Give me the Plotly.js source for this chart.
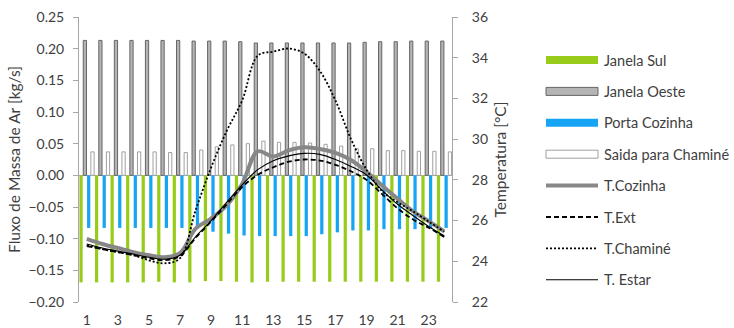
<!DOCTYPE html>
<html><head><meta charset="utf-8">
<script src="https://cdn.plot.ly/plotly-3.0.1.min.js"></script>
<style>html,body{margin:0;padding:0;background:#fff}#chart{width:734px;height:328px}</style>
</head><body><div id="chart"></div>
<script>
// ---- data ----
const hours = [1,2,3,4,5,6,7,8,9,10,11,12,13,14,15,16,17,18,19,20,21,22,23,24];
const tickHours = [1,3,5,7,9,11,13,15,17,19,21,23];
const tickLabels = ['1','3','5','7','9','11','13','15','17','19','21','23'];
const seriesNames = ['Janela Sul','Janela Oeste','Porta Cozinha','Saida para Chaminé','T.Cozinha','T.Ext','T.Chaminé','T. Estar'];

const janelaSul = [-0.169,-0.169,-0.169,-0.169,-0.169,-0.168,-0.169,-0.169,-0.167,-0.167,-0.168,-0.169,-0.168,-0.168,-0.168,-0.168,-0.168,-0.168,-0.168,-0.168,-0.168,-0.168,-0.168,-0.168];
const janelaOeste = [0.213,0.213,0.213,0.213,0.213,0.213,0.213,0.212,0.212,0.212,0.211,0.209,0.209,0.209,0.209,0.209,0.209,0.209,0.210,0.211,0.211,0.212,0.212,0.212];
const portaCozinha = [-0.083,-0.083,-0.083,-0.083,-0.083,-0.083,-0.083,-0.083,-0.089,-0.092,-0.095,-0.096,-0.096,-0.096,-0.096,-0.093,-0.090,-0.087,-0.087,-0.085,-0.085,-0.085,-0.084,-0.083];
const saidaChamine = [0.037,0.037,0.037,0.037,0.037,0.036,0.036,0.040,0.045,0.048,0.050,0.054,0.052,0.052,0.051,0.049,0.046,0.042,0.042,0.039,0.039,0.038,0.038,0.037];

const tCozinha = [25.1,24.85,24.65,24.45,24.3,24.2,24.4,25.6,26.1,26.75,27.8,29.4,29.15,29.45,29.6,29.52,29.33,28.98,28.4,27.72,27.07,26.45,25.97,25.47];
const tExt = [24.75,24.6,24.45,24.3,24.15,24.05,24.25,25.15,25.95,26.8,27.65,28.25,28.62,28.89,29.0,28.95,28.74,28.42,28.0,27.3,26.6,26.05,25.65,25.2];
const tChamine = [24.8,24.6,24.45,24.3,24.05,23.9,24.15,26.5,28.6,30.4,31.9,34.1,34.3,34.45,34.2,33.35,31.9,30.0,28.5,27.45,26.9,26.45,25.95,25.45];
const tEstar = [24.85,24.65,24.5,24.35,24.2,24.1,24.3,25.2,26.0,26.9,27.75,28.5,28.94,29.18,29.3,29.25,29.0,28.66,28.24,27.5,26.8,26.24,25.71,25.25];

// ---- styles ----
const FONT = 'Lato, "Open Sans", sans-serif';
const TXT = '#404040';
const AX = '#a6a6a6';
const barStyles = [
  {color:'#99cc1a', line:{width:0}},
  {color:'#b4b4b4', line:{color:'#666666', width:1}},
  {color:'#16a4f5', line:{width:0}},
  {color:'#ffffff', line:{color:'#a0a0a0', width:1}}
];
const lineStyles = [
  {color:'#878787', width:4, dash:'solid'},
  {color:'#000000', width:1.8, dash:'5px,3px'},
  {color:'#000000', width:1.8, dash:'2px,2px'},
  {color:'#000000', width:1.1, dash:'solid'}
];

const barData = [janelaSul, janelaOeste, portaCozinha, saidaChamine];
const lineData = [tCozinha, tExt, tChamine, tEstar];

const traces = [];
barData.forEach((vals, i) => {
  traces.push({type:'bar', x:hours, y:vals, name:seriesNames[i], marker:barStyles[i], showlegend:false, xaxis:'x', yaxis:'y'});
});
lineData.forEach((vals, i) => {
  traces.push({type:'scatter', mode:'lines', x:hours, y:vals, name:seriesNames[4+i],
    line:Object.assign({shape:'spline', smoothing:1}, lineStyles[i]), showlegend:false, xaxis:'x', yaxis:'y2'});
});

// ---- plot geometry (px) ----
const L = 79, R = 452, T = 17, B = 302;
const px = x => (x - L) / (R - L);
const py = y => (B - y) / (B - T);

// custom legend
const shapes = [];
const annotations = [];
const legX0 = 546, legX1 = 598, legTextX = 602, legY0 = 60, legStep = 31.4;
seriesNames.forEach((nm, i) => {
  const yc = legY0 + i * legStep;
  if (i < 4) {
    const st = barStyles[i];
    shapes.push({type:'rect', xref:'paper', yref:'paper', x0:px(legX0), x1:px(legX1), y0:py(yc+4), y1:py(yc-4),
      fillcolor:st.color, line:{color: st.line.width ? st.line.color : st.color, width: st.line.width ? 1 : 0}});
  } else {
    const st = lineStyles[i-4];
    shapes.push({type:'line', xref:'paper', yref:'paper', x0:px(legX0), x1:px(legX1), y0:py(yc), y1:py(yc),
      line:{color:st.color, width:st.width, dash:st.dash}});
  }
  annotations.push({xref:'paper', yref:'paper', x:px(legTextX), y:py(yc), text:nm, showarrow:false,
    xanchor:'left', yanchor:'middle', font:{family:FONT, size:14.5, color:TXT}});
});

const layout = {
  width:734, height:328,
  margin:{l:L, r:734-R, t:T, b:328-B, pad:0},
  paper_bgcolor:'#fff', plot_bgcolor:'#fff',
  font:{family:FONT, size:14, color:TXT},
  barmode:'group', bargap:0.02, bargroupgap:0.15,
  showlegend:false,
  xaxis:{range:[0.5,24.5], tickvals:tickHours, ticktext:tickLabels, showgrid:false, zeroline:false,
    showline:false, ticks:'', ticklabelstandoff:8, tickfont:{family:FONT, size:14, color:TXT}, fixedrange:true},
  yaxis:{range:[-0.2,0.25], dtick:0.05, tick0:0, tickformat:'.2f', showgrid:false,
    zeroline:true, zerolinecolor:AX, zerolinewidth:1.2,
    showline:true, linecolor:AX, linewidth:1, ticks:'outside', ticklen:5, tickcolor:AX,
    ticklabelstandoff:6, tickfont:{family:FONT, size:14, color:TXT},
    title:{text:'Fluxo de Massa de Ar [kg/s]', font:{family:FONT, size:15.5, color:TXT}, standoff:3}},
  yaxis2:{range:[22,36], dtick:2, overlaying:'y', side:'right', showgrid:false, zeroline:false,
    showline:true, linecolor:AX, linewidth:1, ticks:'outside', ticklen:5, tickcolor:AX,
    ticklabelstandoff:11, tickfont:{family:FONT, size:14, color:TXT},
    title:{text:'Temperatura [°C]', font:{family:FONT, size:15.5, color:TXT}, standoff:8}},
  shapes:shapes,
  annotations:annotations
};

Plotly.newPlot('chart', traces, layout, {staticPlot:true, displayModeBar:false});
</script>
</body></html>
